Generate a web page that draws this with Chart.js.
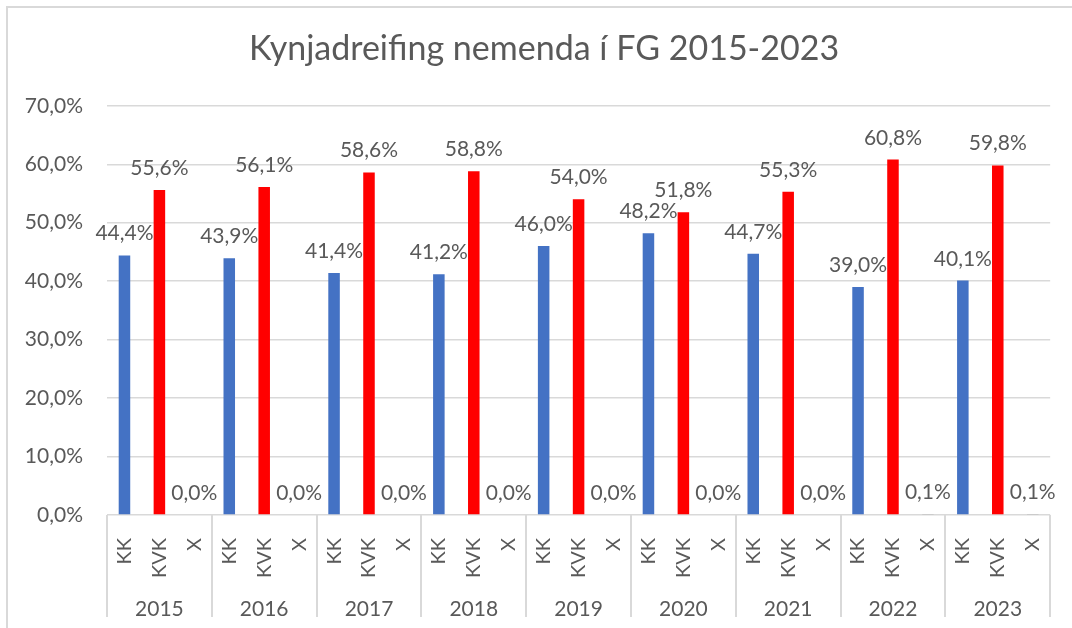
<!DOCTYPE html>
<html>
<head>
<meta charset="utf-8">
<script src="https://cdn.jsdelivr.net/npm/chart.js@4/dist/chart.umd.min.js"></script>
<style>
	body { margin: 0; background: #fff; }
	#wrap { position: relative; width: 1072px; height: 628px; overflow: hidden; }
	#frame { position: absolute; left: 6px; top: 6px; width: 1100px; height: 700px;
		border-left: 2px solid #d9d9d9; border-top: 2px solid #d9d9d9; pointer-events: none; }
	canvas { position: absolute; left: 0; top: 0; }
</style>
</head>
<body>
<div id="wrap">
	<canvas id="Kyn_Plot" width="1072" height="628"></canvas>
	<div id="frame"></div>
</div>
<script>
const years = ['2015', '2016', '2017', '2018', '2019', '2020', '2021', '2022', '2023'];
const groups = ['KK', 'KVK', 'X'];
const kk_values = [44.4, 43.9, 41.4, 41.2, 46.0, 48.2, 44.7, 39.0, 40.1];
const kvk_values = [55.6, 56.1, 58.6, 58.8, 54.0, 51.8, 55.3, 60.8, 59.8];
const x_values = [0.0, 0.0, 0.0, 0.0, 0.0, 0.0, 0.0, 0.1, 0.1];
const y_ticks = [0, 10, 20, 30, 40, 50, 60, 70];

const group_colors = ['#4472C4', '#FF0000', '#A5A5A5'];
const text_color = '#595959';
const font_family = "Lato, 'Open Sans', sans-serif";

Chart.defaults.font.family = font_family;
Chart.defaults.color = text_color;

// flatten into one bar per sub category
var labels = [];
var values = [];
var colors = [];
for (let i = 0; i < years.length; i++) {
	const per_year = [kk_values[i], kvk_values[i], x_values[i]];
	for (let j = 0; j < groups.length; j++) {
		labels.push(groups[j]);
		values.push(per_year[j]);
		colors.push(group_colors[j]);
	}
}

function pct(v) {
	return v.toFixed(1).replace('.', ',') + '%';
}

// labels above bars
const valueLabels = {
	id: 'valueLabels',
	afterDatasetsDraw(chart) {
		const ctx = chart.ctx;
		const meta = chart.getDatasetMeta(0);
		ctx.save();
		ctx.font = '21px ' + font_family;
		ctx.fillStyle = text_color;
		ctx.textAlign = 'center';
		ctx.textBaseline = 'alphabetic';
		meta.data.forEach((bar, i) => {
			ctx.fillText(pct(values[i]), bar.x, bar.y - 15);
		});
		ctx.restore();
	}
};

// separators of the year groups below the plot
const groupLines = {
	id: 'groupLines',
	afterLayout(chart) {
		// title is centred a bit right of the canvas middle
		if (chart.titleBlock) chart.titleBlock.left = 32;
	},
	afterDraw(chart) {
		const xs = chart.scales.x;
		const x2 = chart.scales.x2;
		const ctx = chart.ctx;
		const n = groups.length;
		var pos = [xs.left];
		for (let i = 1; i < years.length; i++) {
			pos.push((xs.getPixelForTick(i * n - 1) + xs.getPixelForTick(i * n)) / 2);
		}
		pos.push(xs.right);
		ctx.save();
		ctx.strokeStyle = '#d9d9d9';
		ctx.lineWidth = 2;
		pos.forEach(p => {
			ctx.beginPath();
			ctx.moveTo(Math.round(p), chart.chartArea.bottom);
			ctx.lineTo(Math.round(p), x2.bottom);
			ctx.stroke();
		});
		ctx.restore();
	}
};

const kyn_plot = document.getElementById('Kyn_Plot').getContext('2d');

var Kyn_Plot_Obj = new Chart(kyn_plot, {
	type: 'bar',
	data: {
		labels: labels,
		datasets: [
			{
				data: values,
				backgroundColor: colors,
				borderWidth: 0,
				categoryPercentage: 1.0,
				barPercentage: 0.33,
			}
		]
	},
	options: {
		responsive: false,
		animation: false,
		devicePixelRatio: 1,
		layout: {
			padding: { left: 0, right: 16, top: 0, bottom: 11 }
		},
		plugins: {
			legend: { display: false },
			tooltip: { enabled: false },
			title: {
				display: true,
				text: 'Kynjadreifing nemenda í FG 2015-2023',
				color: text_color,
				font: { size: 34, weight: 'normal' },
				padding: { top: 29, bottom: 36 }
			}
		},
		scales: {
			x: {
				weight: 0,
				grid: { display: false },
				border: { display: false },
				ticks: {
					minRotation: 90,
					maxRotation: 90,
					autoSkip: false,
					padding: 15,
					font: { size: 20 },
					color: text_color
				},
				afterFit(scale) { scale.height = 68; }
			},
			x2: {
				type: 'category',
				labels: years,
				position: 'bottom',
				weight: 1,
				offset: true,
				grid: { display: false },
				border: { display: false },
				ticks: {
					padding: 6,
					font: { size: 21 },
					color: text_color
				},
				afterFit(scale) { scale.height = 34; }
			},
			y: {
				min: 0,
				max: 70,
				afterBuildTicks(scale) {
					scale.ticks = y_ticks.map(v => ({ value: v }));
				},
				grid: {
					color: '#d9d9d9',
					lineWidth: 1.5,
					drawTicks: false
				},
				border: { display: false },
				ticks: {
					padding: 24,
					font: { size: 21 },
					color: text_color,
					callback: v => pct(v)
				},
				afterFit(scale) { scale.width = 107; }
			}
		},
		events: []
	},
	plugins: [valueLabels, groupLines]
});
</script>
</body>
</html>
